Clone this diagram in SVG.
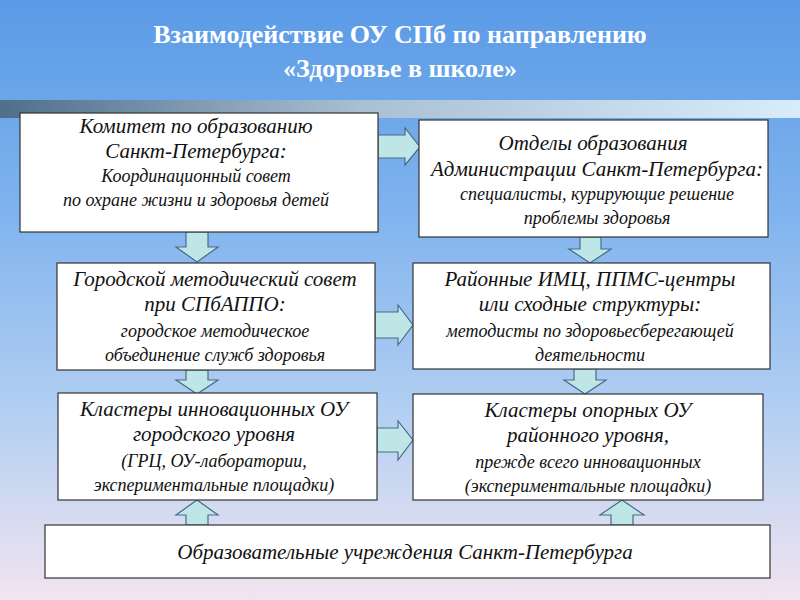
<svg xmlns="http://www.w3.org/2000/svg" width="800" height="600" viewBox="0 0 800 600">
<defs>
<linearGradient id="bg" x1="0" y1="0" x2="0" y2="1">
<stop offset="0" stop-color="#5a9ae6"/><stop offset="0.35" stop-color="#7fb3ee"/><stop offset="0.7" stop-color="#b5d0f2"/><stop offset="1" stop-color="#f2e4f0"/>
</linearGradient>
<linearGradient id="band" x1="0" y1="0" x2="1" y2="0">
<stop offset="0" stop-color="#4f6f8a"/><stop offset="0.45" stop-color="#a9bfd3"/><stop offset="1" stop-color="#d8ecfb"/>
</linearGradient>
<style>
.box{fill:#fff;stroke:#333;stroke-width:1.2}
.arr{fill:#bfe6e6;stroke:#4a6a8a;stroke-width:1.2}
text{font-family:"Liberation Serif",serif;font-style:italic;fill:#111;text-anchor:middle}
.h{font-size:21px}.s{font-size:18px}
.t{font-style:normal;font-weight:bold;fill:#fff;font-size:26px}
</style>
</defs>
<rect width="800" height="600" fill="url(#bg)"/>
<rect x="0" y="100" width="800" height="18" fill="url(#band)"/>
<text class="t" x="400" y="43">Взаимодействие  ОУ СПб по направлению</text>
<text class="t" x="400" y="77">«Здоровье в школе»</text>
<g id="connectors">
<polygon class="arr" points="378,135 405,135 405,128 420,147 405,165 405,158 378,158"/>
<polygon class="arr" points="375,312 398,312 398,305 413,325 398,345 398,338 375,338"/>
<polygon class="arr" points="377,428 398,428 398,421 413,440 398,460 398,452 377,452"/>
<polygon class="arr" points="186,232 208,232 208,247 218,247 197,262 176,247 186,247"/>
<polygon class="arr" points="580,237 601,237 601,249 611,249 590,263 569,249 580,249"/>
<polygon class="arr" points="186,370 208,370 208,380 218,380 197,394 176,380 186,380"/>
<polygon class="arr" points="574,369 596,369 596,380 606,380 585,394 564,380 574,380"/>
<polygon class="arr" points="186,525 208,525 208,515 218,515 197,500 176,515 186,515"/>
<polygon class="arr" points="611,525 633,525 633,515 644,515 622,500 600,515 611,515"/>
</g>
<g id="n1"><rect class="box" x="20" y="113" width="358" height="119"/>
<text class="h" x="196" y="133">Комитет по образованию</text>
<text class="h" x="196" y="158">Санкт-Петербурга:</text>
<text class="s" x="196" y="182">Координационный совет</text>
<text class="s" x="196" y="206">по охране жизни и здоровья детей</text></g>
<g id="n2"><rect class="box" x="419" y="120" width="349" height="117"/>
<text class="h" x="593" y="150">Отделы образования</text>
<text class="h" x="597" y="176">Администрации Санкт-Петербурга:</text>
<text class="s" x="597" y="200">специалисты, курирующие решение</text>
<text class="s" x="597" y="224">проблемы здоровья</text></g>
<g id="n3"><rect class="box" x="57" y="263" width="318" height="107"/>
<text class="h" x="215" y="286">Городской методический совет</text>
<text class="h" x="215" y="311">при СПбАППО:</text>
<text class="s" x="215" y="337">городское методическое</text>
<text class="s" x="215" y="361">объединение служб здоровья</text></g>
<g id="n4"><rect class="box" x="413" y="263" width="357" height="106"/>
<text class="h" x="590" y="286">Районные ИМЦ, ППМС-центры</text>
<text class="h" x="590" y="311">или сходные структуры:</text>
<text class="s" x="590" y="337">методисты по здоровьесберегающей</text>
<text class="s" x="590" y="361">деятельности</text></g>
<g id="n5"><rect class="box" x="58" y="393" width="319" height="107"/>
<text class="h" x="214" y="416">Кластеры инновационных ОУ</text>
<text class="h" x="214" y="441">городского уровня</text>
<text class="s" x="214" y="467">(ГРЦ, ОУ-лаборатории,</text>
<text class="s" x="214" y="491">экспериментальные площадки)</text></g>
<g id="n6"><rect class="box" x="413" y="394" width="350" height="106"/>
<text class="h" x="588" y="417">Кластеры опорных ОУ</text>
<text class="h" x="588" y="442">районного уровня,</text>
<text class="s" x="588" y="468">прежде всего инновационных</text>
<text class="s" x="588" y="492">(экспериментальные площадки)</text></g>
<g id="n7"><rect class="box" x="45" y="525" width="725" height="53"/>
<text class="h" x="405" y="559">Образовательные учреждения Санкт-Петербурга</text></g>
</svg>
